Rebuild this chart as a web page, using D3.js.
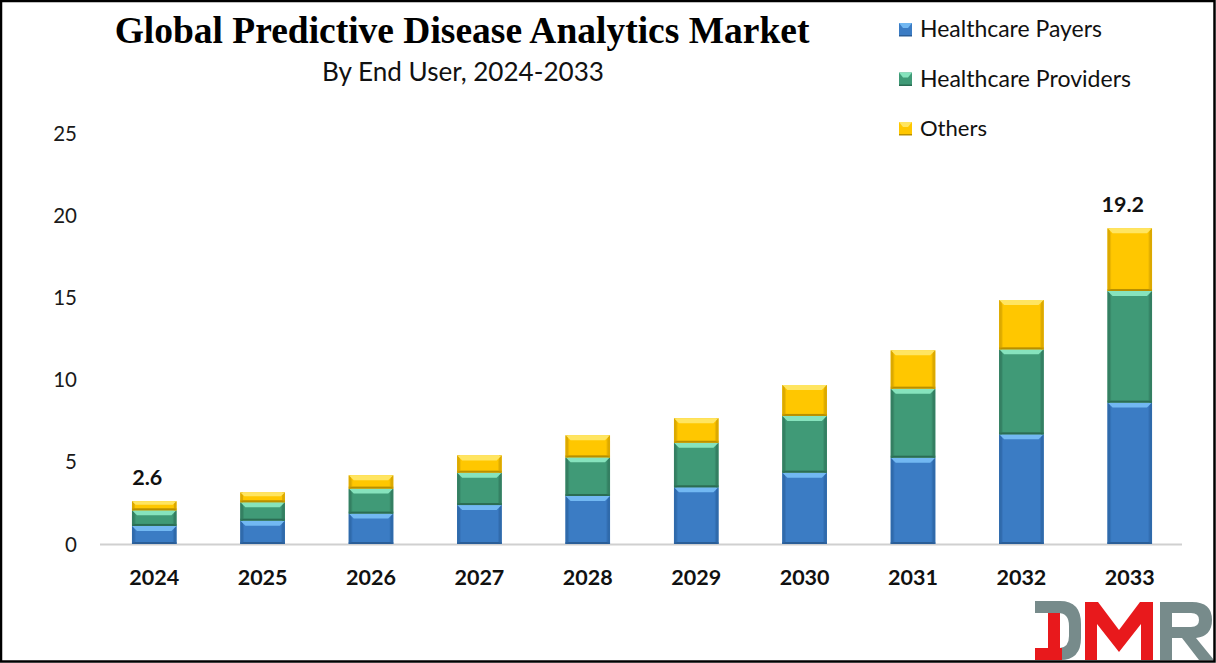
<!DOCTYPE html>
<html>
<head>
<meta charset="utf-8">
<script src="https://cdn.jsdelivr.net/npm/d3@7"></script>
<style>
  html, body { margin: 0; padding: 0; background: #fff; }
  svg { display: block; }
</style>
</head>
<body>
<svg id="chart" width="1216" height="663"></svg>
<script>
// ---- Data ----
const years = ["2024","2025","2026","2027","2028","2029","2030","2031","2032","2033"];
const payers    = [1.10, 1.42, 1.85, 2.37, 2.92, 3.45, 4.34, 5.25, 6.67, 8.60];
const providers = [0.95, 1.12, 1.52, 1.97, 2.35, 2.71, 3.45, 4.20, 5.17, 6.79];
const others    = [0.55, 0.60, 0.81, 1.05, 1.34, 1.49, 1.88, 2.33, 3.00, 3.81];
const seriesNames = ["Healthcare Payers", "Healthcare Providers", "Others"];
const yTicks = [0, 5, 10, 15, 20, 25];
const labelYears = ["2024", "2033"];
const labelTexts = ["2.6", "19.2"];
const titleText = "Global Predictive Disease Analytics Market";
const subtitleText = "By End User, 2024-2033";

// ---- Styles ----
const palette = [
  {main: "#3b7cc4", light: "#72b8f2", dark: "#2a5e98", edge: "#2f6aab"},
  {main: "#409a77", light: "#86e3bd", dark: "#2b6c53", edge: "#347f62"},
  {main: "#ffc700", light: "#ffe561", dark: "#b88f00", edge: "#dca900"}
];
const sansFont = "Lato, 'Open Sans', 'Noto Sans', sans-serif";

const svg = d3.select("#chart");
const W = 1216, H = 663;

svg.append("rect").attr("x", 0).attr("y", 0).attr("width", W).attr("height", H).attr("fill", "#fff");

const x = d3.scaleBand().domain(years).range([100, 1184]).paddingInner(0.59).paddingOuter(0.295);
const y = d3.scaleLinear().domain([0, 25]).range([544, 133]);

// Y axis labels (no line)
const yAxis = d3.axisLeft(y).tickValues(yTicks).tickSize(0).tickPadding(0);
const yg = svg.append("g").attr("transform", "translate(77,0)").call(yAxis);
yg.select(".domain").remove();
yg.selectAll("text").attr("font-family", sansFont).attr("font-size", 20.5).attr("fill", "#1a1a1a").attr("dy", "0.35em");

// X axis baseline
svg.append("line").attr("x1", 100).attr("x2", 1182).attr("y1", y(0) + 0.5).attr("y2", y(0) + 0.5)
  .attr("stroke", "#d0d0d0").attr("stroke-width", 2);

const xAxis = d3.axisBottom(x).tickSize(0).tickPadding(0);
const xg = svg.append("g").attr("transform", "translate(0,585)").call(xAxis);
xg.select(".domain").remove();
xg.selectAll("text").attr("font-family", sansFont).attr("font-weight", "bold").attr("font-size", 21.5)
  .attr("fill", "#111").attr("dy", "0");

// Stacked data
const rows = years.map((yr, i) => ({year: yr, p0: payers[i], p1: providers[i], p2: others[i]}));
const stack = d3.stack().keys(["p0", "p1", "p2"]);
const stacked = stack(rows);

function bevelSeg(g, x0, y0, w, h, c) {
  const b = Math.min(5, h / 2.5);
  g.append("rect").attr("x", x0).attr("y", y0).attr("width", w).attr("height", h).attr("fill", c.main);
  // side edges
  g.append("rect").attr("x", x0).attr("y", y0).attr("width", 2.5).attr("height", h).attr("fill", c.edge);
  g.append("rect").attr("x", x0 + w - 2.5).attr("y", y0).attr("width", 2.5).attr("height", h).attr("fill", c.edge);
  // bottom dark line
  g.append("rect").attr("x", x0).attr("y", y0 + h - 2).attr("width", w).attr("height", 2).attr("fill", c.dark);
  // top bevel (lighter trapezoid)
  g.append("path")
    .attr("d", `M${x0},${y0} L${x0 + w},${y0} L${x0 + w - b},${y0 + b} L${x0 + b},${y0 + b} Z`)
    .attr("fill", c.light);
  // side bevel darker triangles
  g.append("path")
    .attr("d", `M${x0},${y0} L${x0 + b * 0.7},${y0 + b} L${x0 + b * 0.7},${y0 + h - 2} L${x0},${y0 + h} Z`)
    .attr("fill", c.edge).attr("opacity", 0.5);
  g.append("path")
    .attr("d", `M${x0 + w},${y0} L${x0 + w - b * 0.7},${y0 + b} L${x0 + w - b * 0.7},${y0 + h - 2} L${x0 + w},${y0 + h} Z`)
    .attr("fill", c.edge).attr("opacity", 0.5);
}

const barsG = svg.append("g");
stacked.forEach((layer, si) => {
  layer.forEach(d => {
    const x0 = x(d.data.year);
    const y0 = y(d[1]);
    const h = y(d[0]) - y(d[1]);
    bevelSeg(barsG, x0, y0, x.bandwidth(), h, palette[si]);
  });
});

// Value labels
labelYears.forEach((yr, k) => {
  const i = years.indexOf(yr);
  const total = payers[i] + providers[i] + others[i];
  svg.append("text")
    .attr("x", x(yr) + x.bandwidth() / 2 - 7)
    .attr("y", y(total) - 16)
    .attr("text-anchor", "middle")
    .attr("font-family", sansFont).attr("font-weight", "bold").attr("font-size", 21.5).attr("fill", "#111")
    .text(labelTexts[k]);
});

// Title
function fitText(sel, target) {
  const len = sel.node().getComputedTextLength();
  const fs = parseFloat(sel.attr("font-size"));
  sel.attr("font-size", fs * target / len);
}
const title = svg.append("text").attr("x", 462).attr("y", 43).attr("text-anchor", "middle")
  .attr("font-family", "'Liberation Serif', 'Times New Roman', serif").attr("font-weight", "bold")
  .attr("font-size", 34).attr("fill", "#000").text(titleText);
fitText(title, 695);
const sub = svg.append("text").attr("x", 463).attr("y", 81).attr("text-anchor", "middle")
  .attr("font-family", sansFont).attr("font-size", 23).attr("fill", "#111").text(subtitleText);
fitText(sub, 282);

// Legend
const legendWidths = [182, 211, 67];
const legend = svg.append("g");
seriesNames.forEach((name, i) => {
  const by = 37 + i * 49.5;
  const c = palette[i];
  const mg = legend.append("g");
  mg.append("rect").attr("x", 899).attr("y", by - 14).attr("width", 13).attr("height", 13).attr("fill", c.main);
  mg.append("path").attr("d", `M899,${by - 14} L912,${by - 14} L908,${by - 9} L903,${by - 9} Z`).attr("fill", c.light);
  mg.append("rect").attr("x", 899).attr("y", by - 2).attr("width", 13).attr("height", 1.5).attr("fill", c.dark);
  const t = legend.append("text").attr("x", 920).attr("y", by)
    .attr("font-family", sansFont).attr("font-size", 21).attr("fill", "#111").text(name);
  fitText(t, legendWidths[i]);
});

// DMR logo
const logo = svg.append("g");
const gray = "#778b8b", red = "#e8191c";
// D (gray outer)
logo.append("path").attr("fill", gray)
  .attr("d", "M1035,601 H1060 Q1081,601 1081,624 V638 Q1081,660 1060,660 V648 Q1069,647 1069,636 V626 Q1069,613 1058,613 H1035 Z");
// red L of D
logo.append("path").attr("fill", red)
  .attr("d", "M1048,613 H1060 V648 H1062 V660 H1035 V648 H1048 Z");
// M (red)
logo.append("path").attr("fill", red)
  .attr("d", "M1085,660 V602 H1098 L1119,630 L1140,602 H1153 V660 H1141 V624 L1119,652 L1097,624 V660 Z");
// R (gray)
logo.append("path").attr("fill", gray).attr("fill-rule", "evenodd")
  .attr("d", "M1160,660 V602 H1192 Q1212,602 1212,620 Q1212,636 1196,638 L1214,660 H1199 L1182,638 H1172 V660 Z M1172,613 V627 H1191 Q1199,627 1199,620 Q1199,613 1191,613 Z");

// Border
svg.append("rect").attr("x", 1).attr("y", 1).attr("width", 1213.5).attr("height", 660.5)
  .attr("fill", "none").attr("stroke", "#000").attr("stroke-width", 2.5);
</script>
</body>
</html>
